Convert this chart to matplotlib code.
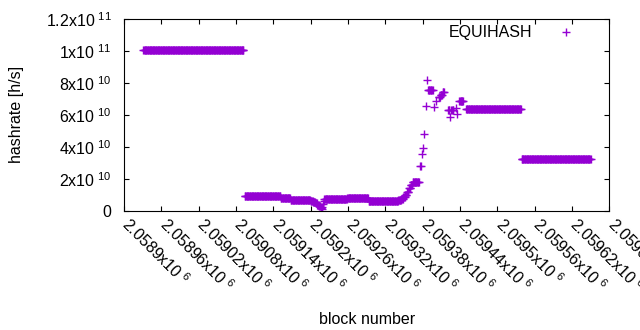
import numpy as np
import matplotlib
matplotlib.use("Agg")
import matplotlib.pyplot as plt
import matplotlib.transforms as mtransforms

plt.rcParams['font.family'] = ['Liberation Sans', 'DejaVu Sans']
FS = 11.5
plt.rcParams['font.size'] = FS

# Data: runs of blocks (first block, last block) with the hashrate
run_first = [2058931, 2059094, 2059152, 2059168, 2059200, 2059204, 2059208, 2059211,
             2059214, 2059216, 2059218, 2059219, 2059220, 2059221, 2059222, 2059259,
             2059293, 2059309, 2059324, 2059341, 2059346, 2059349, 2059352, 2059355,
             2059358, 2059361, 2059364, 2059376, 2059379, 2059380, 2059382, 2059385,
             2059387, 2059389, 2059399, 2059402, 2059406, 2059409, 2059412, 2059421,
             2059424, 2059426, 2059433, 2059435, 2059439, 2059450, 2059539]
run_last = [2059092, 2059151, 2059167, 2059199, 2059203, 2059207, 2059210, 2059213,
            2059215, 2059217, 2059218, 2059219, 2059220, 2059221, 2059258, 2059292,
            2059308, 2059323, 2059340, 2059345, 2059348, 2059351, 2059354, 2059357,
            2059360, 2059363, 2059374, 2059377, 2059379, 2059380, 2059382, 2059385,
            2059387, 2059396, 2059399, 2059402, 2059408, 2059411, 2059414, 2059423,
            2059424, 2059429, 2059433, 2059435, 2059445, 2059538, 2059650]
run_value = [1.009e11, 9.3e9, 7.7e9, 6.8e9, 6.3e9, 5.6e9, 4.8e9, 3.8e9,
             2.8e9, 1.8e9, 1.1e9, 2.2e9, 4.0e9, 5.8e9, 7.3e9, 8.1e9,
             5.8e9, 6.0e9, 6.3e9, 6.7e9, 7.6e9, 8.8e9, 1.0e10, 1.2e10,
             1.4e10, 1.58e10, 1.77e10, 2.79e10, 3.56e10, 3.95e10, 4.79e10, 6.54e10,
             8.21e10, 7.57e10, 6.5e10, 6.88e10, 7.1e10, 7.25e10, 7.4e10, 6.29e10,
             5.88e10, 6.29e10, 6.4e10, 6.03e10, 6.86e10, 6.34e10, 3.21e10]

x_ticks = [2058900, 2058960, 2059020, 2059080, 2059140, 2059200, 2059260,
           2059320, 2059380, 2059440, 2059500, 2059560, 2059620, 2059680]
x_tick_mantissa = ['2.0589', '2.05896', '2.05902', '2.05908', '2.05914', '2.0592',
                   '2.05926', '2.05932', '2.05938', '2.05944', '2.0595', '2.05956',
                   '2.05962', '2.05968']
y_ticks = [0, 2e10, 4e10, 6e10, 8e10, 1e11, 1.2e11]
y_tick_labels = ['0', r'$\mathregular{2x10^{\ 10}}$', r'$\mathregular{4x10^{\ 10}}$',
                 r'$\mathregular{6x10^{\ 10}}$', r'$\mathregular{8x10^{\ 10}}$',
                 r'$\mathregular{1x10^{\ 11}}$', r'$\mathregular{1.2x10^{\ 11}}$']

blocks = np.concatenate([np.arange(a, b + 1) for a, b in zip(run_first, run_last)])
hashrate = np.concatenate([np.full(b - a + 1, v) for a, b, v in zip(run_first, run_last, run_value)])

fig = plt.figure(figsize=(6.4, 3.3), dpi=100)
ax = fig.add_axes([124 / 640, 1 - 210.7 / 330, (609.3 - 124) / 640, (210.7 - 19) / 330])

color = '#9400D3'
ax.plot(blocks, hashrate, linestyle='none', marker='+', markersize=6,
        markeredgewidth=1.0, color=color, label='EQUIHASH')

ax.set_xlim(2058900, 2059680)
ax.set_ylim(0, 1.2e11)
ax.set_yticks(y_ticks)
ax.set_yticklabels(y_tick_labels)
ax.set_xticks(x_ticks)
ax.set_xticklabels([])

# rotated x tick labels, anchored just below each tick
offset = mtransforms.ScaledTranslation(8 / 100, -4 / 100, fig.dpi_scale_trans)
xtrans = ax.get_xaxis_transform() + offset
for t, m in zip(x_ticks, x_tick_mantissa):
    ax.text(t, 0, r'$\mathregular{' + m + r'x10^{\ 6}}$', transform=xtrans,
            rotation=-45, rotation_mode='anchor', ha='left', va='top',
            fontsize=FS, clip_on=False)

for s in ax.spines.values():
    s.set_linewidth(0.8)
ax.tick_params(direction='in', length=3.3, width=0.8, top=True, right=True,
               labelsize=FS)
ax.tick_params(axis='y', pad=9)

ax.set_ylabel('hashrate [h/s]', fontsize=FS)
ax.yaxis.set_label_coords((16.3 - 124) / 485.3, 0.5)
ax.set_xlabel('block number', fontsize=FS)
ax.xaxis.set_label_coords(0.5, (210.7 - 320) / 191.7)
ax.xaxis.label.set_va('center')
ax.yaxis.label.set_va('center')

ax.legend(loc='upper right', bbox_to_anchor=(0.9655, 0.967), frameon=False,
          markerfirst=False, numpoints=1, handlelength=3.3, handletextpad=0.45,
          borderpad=0, borderaxespad=0, fontsize=FS)

fig.savefig('out.png', dpi=100)
